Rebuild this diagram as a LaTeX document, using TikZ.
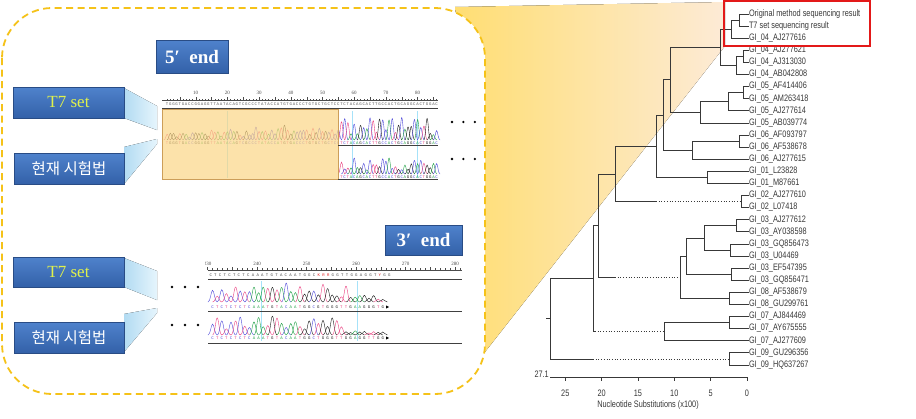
\documentclass[tikz,border=0pt]{standalone}
\usepackage{fontspec}
\setmainfont{Liberation Serif}
\newfontfamily\treefont[FakeStretch=0.78]{Liberation Sans}
\newfontfamily\krfont{Noto Sans CJK KR}
\newfontfamily\seqfont{Liberation Mono}
\usetikzlibrary{shadows,positioning}

\definecolor{tagtop}{rgb}{0.31,0.51,0.80}
\definecolor{tagbottom}{rgb}{0.20,0.38,0.66}
\definecolor{tagedge}{rgb}{0.16,0.30,0.52}
\definecolor{tagyellow}{rgb}{0.88,0.95,0.30}
\definecolor{frameyellow}{rgb}{0.96,0.76,0.10}
\definecolor{wedgeblue}{rgb}{0.70,0.86,0.95}
\definecolor{wedgelight}{rgb}{0.90,0.96,0.99}
\definecolor{fanyellow}{rgb}{1.00,0.87,0.45}
\definecolor{fanorange}{rgb}{0.98,0.80,0.56}
\definecolor{fanlight}{rgb}{0.99,0.92,0.84}
\definecolor{markorange}{rgb}{0.985,0.84,0.53}
\definecolor{markedge}{rgb}{0.80,0.62,0.35}
\definecolor{treegray}{rgb}{0.22,0.22,0.22}
\definecolor{boxred}{rgb}{0.89,0.10,0.10}
\definecolor{baseA}{rgb}{0.10,0.62,0.25}
\definecolor{baseC}{rgb}{0.30,0.28,0.85}
\definecolor{baseG}{rgb}{0.10,0.10,0.10}
\definecolor{baseT}{rgb}{0.92,0.25,0.50}
\colorlet{rowA}{black!70}
\colorlet{rowC}{black!70}
\colorlet{rowG}{black!70}
\colorlet{rowT}{black!70}
\colorlet{rowK}{boxred}
\colorlet{rowR}{boxred}
\colorlet{rowY}{boxred}

\begin{document}
\begin{tikzpicture}[x=1pt,y=-1pt]
    \tikzstyle{frame}=[draw=frameyellow,line width=1.8pt,dash pattern=on 7pt off 4.5pt,rounded corners=50pt,fill=white]
    \tikzstyle{tagbox}=[draw=tagedge,line width=0.6pt,top color=tagtop,bottom color=tagbottom,inner sep=0pt,drop shadow={opacity=0.25,shadow xshift=1.2pt,shadow yshift=-1.2pt}]
    \tikzstyle{wedge}=[left color=wedgeblue,right color=wedgelight]
    \tikzstyle{leaf}=[anchor=west,inner sep=0pt,outer sep=0pt,font=\treefont\fontsize{9.4}{10}\selectfont,text=treegray]
    \tikzstyle{axisnum}=[inner sep=0pt,font=\treefont\fontsize{9.4}{10}\selectfont,text=treegray]
    \tikzstyle{branch}=[draw=treegray,line width=0.7pt]
    \tikzstyle{seqtxt}=[inner sep=0pt,font=\seqfont\fontsize{4}{4}\selectfont]
    \tikzstyle{peak}=[line width=0.4pt]
    \tikzstyle{ruletick}=[draw=black!70,line width=0.3pt]
    \tikzstyle{rulenum}=[inner sep=0pt,font=\fontsize{5}{5}\selectfont,text=black!70]
    \tikzstyle{track}=[draw=black!75,line width=1pt]
    \tikzstyle{gridline}=[draw=cyan!35,line width=0.4pt]
    \tikzstyle{dotmark}=[circle,fill=black,inner sep=0pt,minimum size=2.6pt]

    \useasboundingbox (0,0) rectangle (916,418);

    % fan towards the tree
    \fill[left color=fanyellow,middle color=fanorange,right color=fanlight] (455,7) -- (725,2) -- (725,46) -- (485,352) -- cycle;
    \draw[frame] (2,8) rectangle (485,394);

    % callout wedges
    \fill[wedge] (124,88) -- (157,106) -- (157,130) -- (124,118) -- cycle;
    \fill[wedge] (124,147) -- (157,139) -- (157,144) -- (124,184) -- cycle;
    \fill[wedge] (124,258) -- (157,271) -- (157,300) -- (124,287) -- cycle;
    \fill[wedge] (124,314) -- (157,308) -- (157,313) -- (124,352) -- cycle;

    \node[tagbox,minimum width=72pt,minimum height=33pt,text=white,font=\bfseries\fontsize{19}{19}\selectfont] (end5) at (192,56.5) {5′\enspace end};
    \node[tagbox,minimum width=111pt,minimum height=31pt,text=tagyellow,font=\fontsize{17}{17}\selectfont] (t7a) at (68.5,102.5) {T7 set};
    \node[tagbox,minimum width=110pt,minimum height=31pt,text=white,font=\krfont\fontsize{15.5}{16}\selectfont] (hja) at (69,168.5) {현재 시험법};
    \node[tagbox,minimum width=77pt,minimum height=30pt,text=white,font=\bfseries\fontsize{19}{19}\selectfont] (end3) at (423.5,240) {3′\enspace end};
    \node[tagbox,minimum width=111pt,minimum height=30pt,text=tagyellow,font=\fontsize{17}{17}\selectfont] (t7b) at (68.5,272) {T7 set};
    \node[tagbox,minimum width=110pt,minimum height=31pt,text=white,font=\krfont\fontsize{15.5}{16}\selectfont] (hjb) at (69,337.5) {현재 시험법};

    % 5' chromatogram
    \draw[ruletick] (162,100) -- (438,100);
    \foreach \k in {1,...,86}
        \draw[ruletick] ({164+3.17*\k},100) -- ++(0,-1.5);
    \foreach \k in {5,10,...,85}
        \draw[ruletick] ({164+3.17*\k},100) -- ++(0,-3);
    \foreach \k in {10,20,...,80}
        \node[rulenum] at ({164+3.17*\k},93) {\k};
    \foreach \gx in {227,352,417}
        \draw[gridline] (\gx,111) -- (\gx,178);
    \pgfmathsetseed{21}
    \foreach \b [count=\i] in {T,G,G,G,T,G,A,C,C,G,G,A,G,G,T,T,A,A,T,A,C,A,G,T,C,G,C,C,C,T,A,T,A,C,C,A,T,G,T,G,A,C,C,C,T,G,T,G,C,T,G,C,T,C,C,T,C,T,A,C,A,G,C,A,C,T,T,G,C,C,A,C,T,G,C,A,G,G,C,A,C,T,G,G,A,C} {
        \pgfmathsetmacro{\px}{164+3.17*\i}
        \pgfmathsetmacro{\ph}{\i<56 ? 2+6*rnd+12*rnd*(\i/56) : 5+19*rnd}
        \draw[peak,base\b] (\px-3.4,140) .. controls (\px-1.6,140) and (\px-1.1,140-\ph) .. (\px,140-\ph) .. controls (\px+1.1,140-\ph) and (\px+1.6,140) .. (\px+3.4,140);
        \node[seqtxt,text=black!65] at (\px,104) {\b};
        \node[seqtxt,text=base\b] at (\px,143) {\b};
        \ifnum\i>55
            \pgfmathsetmacro{\qh}{3+13*rnd}
            \draw[peak,base\b] (\px-3.4,174) .. controls (\px-1.6,174) and (\px-1.1,174-\qh) .. (\px,174-\qh) .. controls (\px+1.1,174-\qh) and (\px+1.6,174) .. (\px+3.4,174);
            \node[seqtxt,text=base\b] at (\px,177) {\b};
        \fi
    }
    \fill[markorange,fill opacity=0.7] (162,109) rectangle (338,179);
    \draw[markedge,line width=0.5pt] (162,109) rectangle (338,179);
    \draw[track] (162,108) -- (438,108);
    \draw[track] (338,145.5) -- (438,145.5);
    \draw[track] (338,179.5) -- (438,179.5);
    \node[dotmark] (d5a) at (452,122) {};
    \node[dotmark,right=8.4pt of d5a] (d5b) {};
    \node[dotmark,right=8.4pt of d5b] (d5c) {};
    \node[dotmark] (d5d) at (452,159) {};
    \node[dotmark,right=8.4pt of d5d] (d5e) {};
    \node[dotmark,right=8.4pt of d5e] (d5f) {};

    % 3' chromatogram
    \begin{scope}
        \clip (205,250) rectangle (466,350);
        \draw[ruletick] (208,270) -- (462,270);
        \foreach \k in {230,...,281}
            \draw[ruletick] ({257+4.95*(\k-240)},270) -- ++(0,-2);
        \foreach \k in {230,235,...,280}
            \draw[ruletick] ({257+4.95*(\k-240)},270) -- ++(0,-3.5);
        \foreach \k in {230,240,...,280}
            \node[rulenum] at ({257+4.95*(\k-240)},263.5) {\k};
    \end{scope}
    \foreach \b [count=\i] in {C,T,C,T,C,T,C,T,C,A,A,A,T,G,T,A,C,A,A,T,G,G,C,K,R,R,G,G,T,T,G,G,A,G,G,T,Y,G,G}
        \node[seqtxt,text=row\b] at ({206+4.7*\i},275) {\b};
    \foreach \gx in {261,357}
        \draw[gridline] (\gx,281) -- (\gx,341);
    \pgfmathsetseed{5}
    \foreach \b [count=\i] in {C,T,C,T,C,T,C,T,C,A,A,A,T,G,T,A,C,A,A,T,G,G,C,G,T,G,G,G,T,T,G,A,A,G,G,G,T,G} {
        \pgfmathsetmacro{\px}{208+4.6*\i}
        \pgfmathsetmacro{\ph}{\i<31 ? 5+14*rnd : 2+5*rnd}
        \draw[peak,base\b] (\px-4.6,302) .. controls (\px-2.2,302) and (\px-1.5,302-\ph) .. (\px,302-\ph) .. controls (\px+1.5,302-\ph) and (\px+2.2,302) .. (\px+4.6,302);
        \node[seqtxt,text=base\b] at (\px,307) {\b};
    }
    \foreach \b [count=\i] in {C,T,C,T,C,T,C,T,C,A,A,A,T,G,T,A,C,A,A,T,G,G,C,T,G,G,G,T,T,G,G,A,G,G,T,T,G,G} {
        \pgfmathsetmacro{\px}{208+4.6*\i}
        \pgfmathsetmacro{\ph}{\i<30 ? 5+14*rnd : 1.5+3*rnd}
        \draw[peak,base\b] (\px-4.6,335) .. controls (\px-2.2,335) and (\px-1.5,335-\ph) .. (\px,335-\ph) .. controls (\px+1.5,335-\ph) and (\px+2.2,335) .. (\px+4.6,335);
        \node[seqtxt,text=base\b] at (\px,338) {\b};
    }
    \fill[black] (386,305.4) -- (389.2,307) -- (386,308.6) -- cycle;
    \fill[black] (386,336.4) -- (389.2,338) -- (386,339.6) -- cycle;
    \draw[track] (208,279) -- (462,279);
    \draw[track] (208,311) -- (462,311);
    \draw[track] (208,343) -- (462,343);
    \node[dotmark] (d3a) at (172,287) {};
    \node[dotmark,right=10pt of d3a] (d3b) {};
    \node[dotmark,right=10pt of d3b] (d3c) {};
    \node[dotmark] (d3d) at (172,325) {};
    \node[dotmark,right=10pt of d3d] (d3e) {};
    \node[dotmark,right=10pt of d3e] (d3f) {};

    % tree leaves
    \foreach \t [count=\i] in {Original method sequencing result,T7 set sequencing result,GI\_04\_AJ277616,GI\_04\_AJ277621,GI\_04\_AJ313030,GI\_04\_AB042808,GI\_05\_AF414406,GI\_05\_AM263418,GI\_05\_AJ277614,GI\_05\_AB039774,GI\_06\_AF093797,GI\_06\_AF538678,GI\_06\_AJ277615,GI\_01\_L23828,GI\_01\_M87661,GI\_02\_AJ277610,GI\_02\_L07418,GI\_03\_AJ277612,GI\_03\_AY038598,GI\_03\_GQ856473,GI\_03\_U04469,GI\_03\_EF547395,GI\_03\_GQ856471,GI\_08\_AF538679,GI\_08\_GU299761,GI\_07\_AJ844469,GI\_07\_AY675555,GI\_07\_AJ277609,GI\_09\_GU296356,GI\_09\_HQ637267}
        \node[leaf] (l\i) at (749,{14+12.1*(\i-1)}) {\t};

    % tree joins
    \coordinate (a12) at (739,20.05);
    \coordinate (a123) at (731,29.1);
    \coordinate (a45) at (743,56.35);
    \coordinate (a456) at (736,65.4);
    \coordinate (a16) at (720,47.3);
    \coordinate (a78) at (743,92.65);
    \coordinate (a789) at (728,101.7);
    \coordinate (a710) at (700,112.3);
    \coordinate (a110) at (670,79.8);
    \coordinate (b1112) at (739,141.05);
    \coordinate (b1113) at (692,150.1);
    \coordinate (a113) at (663,115);
    \coordinate (c1415) at (707,177.35);
    \coordinate (a115) at (656,146.2);
    \coordinate (d1617) at (741,201.55);
    \coordinate (d1617s) at (656,201.55);
    \coordinate (a117) at (615,173.9);
    \coordinate (e1819) at (736,225.75);
    \coordinate (e2021) at (730,249.95);
    \coordinate (e1821) at (704,237.85);
    \coordinate (e2223) at (731,274.15);
    \coordinate (e1823) at (686,256);
    \coordinate (e2425) at (729,298.35);
    \coordinate (e1825) at (680,277.2);
    \coordinate (e1825s) at (615,277.2);
    \coordinate (a125) at (598,225.5);
    \coordinate (f2627) at (729,322.55);
    \coordinate (f2628) at (664,331.6);
    \coordinate (f2628s) at (595,331.6);
    \coordinate (a128) at (593,278.6);
    \coordinate (g2930) at (729,358.85);
    \coordinate (g2930s) at (593,358.85);
    \coordinate (root) at (550,318.7);
    \coordinate (stub) at (546,318.7);

    \foreach \p/\c in {a12/l1,a12/l2,a123/a12,a123/l3,a45/l4,a45/l5,a456/a45,a456/l6,a16/a123,a16/a456,a78/l7,a78/l8,a789/a78,a789/l9,a710/a789,a710/l10,a110/a16,a110/a710,b1112/l11,b1112/l12,b1113/b1112,b1113/l13,a113/a110,a113/b1113,c1415/l14,c1415/l15,a115/a113,a115/c1415,d1617/l16,d1617/l17,a117/a115,a117/d1617s,e1819/l18,e1819/l19,e2021/l20,e2021/l21,e1821/e1819,e1821/e2021,e2223/l22,e2223/l23,e1823/e1821,e1823/e2223,e2425/l24,e2425/l25,e1825/e1823,e1825/e2425,a125/a117,a125/e1825s,f2627/l26,f2627/l27,f2628/f2627,f2628/l28,a128/a125,a128/f2628s,g2930/l29,g2930/l30,root/a128,root/g2930s}
        \draw[branch] (\p) |- (\c);
    \draw[branch,dotted] (d1617s) -- (d1617);
    \draw[branch,dotted] (e1825s) -- (e1825);
    \draw[branch,dotted] (f2628s) -- (f2628);
    \draw[branch,dotted] (g2930s) -- (g2930);
    \draw[branch] (root) -- (stub);

    \draw[boxred,line width=1.8pt] (724,1) rectangle (870,46);

    % scale
    \coordinate (ax0) at (747,377);
    \coordinate (ax1) at (550,377);
    \draw[branch] (ax1) -- (ax0);
    \node[axisnum,anchor=south east] (maxd) at (549,377.5) {27.1};
    \foreach \v in {0,5,...,25} {
        \draw[branch] ({747-7.27*\v},377) -- ++(0,4);
        \node[axisnum] (tk\v) at ({747-7.27*\v},393) {\v};
    }
    \node[axisnum] (axlabel) at (648,405) {Nucleotide Substitutions (x100)};
\end{tikzpicture}
\end{document}
